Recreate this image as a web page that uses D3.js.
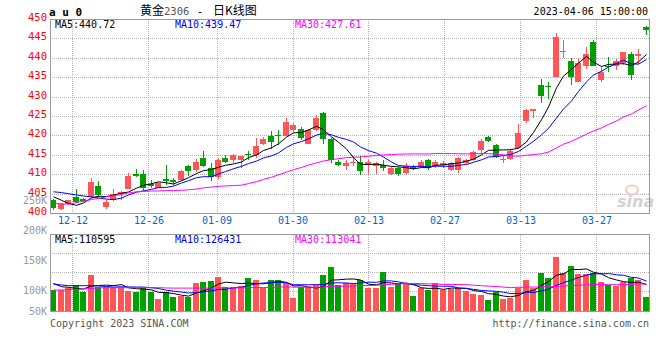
<!DOCTYPE html>
<html><head><meta charset="utf-8">
<script src="https://cdn.jsdelivr.net/npm/d3@7"></script>
<style>body{margin:0;background:#fff;} svg{display:block;}</style>
</head><body>
<svg id="c" width="660" height="360"></svg>
<script>
// ---------------- data ----------------
const dates = ["12-07","12-08","12-09","12-12","12-13","12-14","12-15","12-16","12-19","12-20",
"12-21","12-22","12-23","12-26","12-27","12-28","12-29","12-30","01-03","01-04",
"01-05","01-06","01-09","01-10","01-11","01-12","01-13","01-16","01-17","01-18",
"01-19","01-20","01-30","01-31","02-01","02-02","02-03","02-06","02-07","02-08",
"02-09","02-10","02-13","02-14","02-15","02-16","02-17","02-20","02-21","02-22",
"02-23","02-24","02-27","02-28","03-01","03-02","03-03","03-06","03-07","03-08",
"03-09","03-10","03-13","03-14","03-15","03-16","03-17","03-20","03-21","03-22",
"03-23","03-24","03-27","03-28","03-29","03-30","03-31","04-03","04-04","04-06"];
const open = [403.6,401.2,402.4,404.3,403.75,404.3,407.0,401.7,403.4,405.0,
406.3,410.1,410.3,407.7,406.7,408.8,408.6,408.6,412.3,411.1,
414.4,411.6,409.3,414.4,413.7,413.7,415.4,415.0,418.0,419.9,
420.2,420.1,421.4,421.9,418.0,421.5,425.8,419.3,413.3,412.3,
413.2,413.4,412.4,412.3,412.4,410.3,411.6,410.4,412.0,412.0,
413.7,412.2,412.6,411.3,411.1,412.9,413.9,416.3,419.7,417.6,
413.7,414.1,416.9,423.8,426.4,433.0,432.8,435.1,441.6,439.4,
433.9,437.9,444.1,434.3,438.1,437.9,438.7,441.1,440.6,448.0];
const high = [403.8,402.7,403.6,406.4,404.0,409.25,408.3,403.4,406.2,405.8,
410.4,411.4,411.1,408.6,408.1,412.4,409.2,411.1,412.6,414.0,
416.1,413.0,414.3,415.0,415.4,414.9,416.0,419.5,419.7,421.2,
421.4,424.7,423.3,422.4,421.9,425.4,426.1,419.5,413.7,413.7,
414.7,414.7,413.7,413.4,413.9,412.2,412.0,412.9,412.4,413.7,
414.1,413.7,413.5,413.2,414.5,414.1,416.0,419.3,419.9,417.9,
414.8,416.6,423.1,427.0,426.9,434.7,434.0,446.4,444.6,440.1,
440.1,442.8,444.7,437.7,440.4,439.8,441.6,441.5,442.3,448.4];
const low = [401.0,400.8,402.2,402.6,402.9,404.1,404.3,401.2,403.2,403.4,
406.2,409.4,405.8,406.7,406.5,407.3,407.3,408.4,409.7,410.7,
412.1,408.4,409.0,412.9,412.9,411.6,413.7,414.3,417.6,416.7,
417.6,419.9,421.0,419.0,417.8,421.2,417.8,412.9,412.2,411.1,
412.2,409.8,410.3,410.1,410.9,409.8,409.6,410.3,411.1,411.6,
411.1,411.6,411.8,410.9,410.5,412.7,413.6,415.4,418.3,414.3,
413.0,413.9,416.7,423.2,424.6,428.5,429.5,435.1,440.1,433.2,
433.9,437.3,437.9,433.8,436.4,436.9,438.2,434.4,438.6,446.1];
const close = [401.5,402.4,403.4,403.0,403.2,408.0,404.7,402.9,405.0,405.5,
409.6,409.6,406.7,407.0,407.9,408.4,408.0,410.9,410.9,413.3,
412.2,409.3,413.9,413.4,415.0,414.7,415.1,417.3,419.1,418.4,
419.9,423.7,422.9,419.5,421.6,424.7,419.3,413.7,412.6,412.9,
413.4,410.9,413.3,413.1,411.6,411.8,410.3,412.3,411.5,413.3,
411.6,413.3,413.0,412.9,414.3,413.9,415.8,418.7,418.7,414.6,
414.1,416.1,420.7,426.7,426.9,430.4,432.5,445.4,441.9,435.3,
438.7,441.0,438.1,436.4,437.9,439.2,441.5,435.7,441.1,447.3];
const volume = [100800,100800,103700,109200,98000,125800,105300,106300,105300,106300,
99200,98000,103700,98000,85800,97000,89700,90800,89700,112000,
113700,115800,122500,105300,106300,108000,120300,117500,103700,117500,
117500,112000,87000,106300,106300,109200,125800,138700,109200,112000,
110300,117500,103700,103700,131300,106300,110300,110300,91300,104700,
100800,112000,100800,102000,103700,99200,94200,92500,84200,97000,
85800,88000,103700,117500,103700,128700,121300,156300,128700,140800,
127000,127000,128700,114700,109200,108000,113700,121300,117500,89700];
// moving-average values for the bars before enough history is visible
const ma5Lead = [404.3,403.4,402.6,402.1];
const ma10Lead = [405.6,405.4,405.1,404.8,404.5,404.3,404.0,403.7,403.6];
const ma30Lead = [402.6,402.5,402.4,402.8,403.2,403.6,403.9,404.3,404.6,404.9,
405.3,405.6,405.7,405.8,405.8,405.9,405.9,406.0,406.1,406.3,
406.6,406.8,407.0,407.1,407.2,407.3,407.7,408.2,408.8];
const volMa5Lead = [111700,106300,105300,103300];
const volMa10Lead = [110800,109200,108000,108000,108000,108000,107500,106700,105800];
const volMa30Lead = [100800,100800,101500,102000,102500,103500,104200,104700,104700,104700,
104700,104700,104700,104700,104700,104200,104000,104000,104000,104000,
104000,104000,104200,104200,104300,104500,104700,104800,105000];
const priceTicks = [450,445,440,435,430,425,420,415,410,405,400];
const volTicks = [250000,200000,150000,100000,50000];
const volTickLabels = ["250K","200K","150K","100K","50K"];
const dateTicks = ["12-12","12-26","01-09","01-30","02-13","02-27","03-13","03-27"];
const priceMaLabels = ["MA5:440.72","MA10:439.47","MA30:427.61"];
const volMaLabels = ["MA5:110595","MA10:126431","MA30:113041"];
const maColors = ["#000000","#0000ff","#ff00ff"];

// ---------------- helpers ----------------
function movingAvg(arr, n, lead) {
  return arr.map((v, i) => i < n - 1 ? lead[i] : d3.mean(arr.slice(i - n + 1, i + 1)));
}
const priceMA = [movingAvg(close, 5, ma5Lead), movingAvg(close, 10, ma10Lead), movingAvg(close, 30, ma30Lead)];
const volMA = [movingAvg(volume, 5, volMa5Lead), movingAvg(volume, 10, volMa10Lead), movingAvg(volume, 30, volMa30Lead)];

const RED = "#ff5555", GREEN = "#00a000";
const MONO = "'DejaVu Sans Mono', monospace";
const svg = d3.select("#c");

const P = {l: 50, r: 650, t: 19, b: 213.5};
const V = {t: 234.5, b: 311};
const xBand = d3.scaleLinear().domain([0, dates.length]).range([P.l, P.r]);
const left = i => Math.round(xBand(i));
const cx = i => left(i) + 3.5;
const xGrid = d3.scaleLinear().domain([0, dates.length - 1]).range([P.l, P.r]);
const yP = d3.scaleLinear().domain([400, 450]).range([213.5, 19.5]);
const yV = d3.scaleLinear().domain([50000, 250000]).range([320.5, 200.5]);

const crisp = v => Math.floor(v) + 0.5;
const gridStyle = s => s.attr("stroke", "#b4b4b4").attr("stroke-dasharray", "1,1").attr("shape-rendering", "crispEdges");

// ---------------- grids ----------------
const gP = svg.append("g");
gP.selectAll("line.hg").data(priceTicks.slice(1, -1)).join("line")
  .attr("x1", P.l).attr("x2", P.r).attr("y1", d => crisp(yP(d))).attr("y2", d => crisp(yP(d)))
  .call(gridStyle);
const tickIdx = dateTicks.map(t => dates.indexOf(t));
gP.selectAll("line.vg").data(tickIdx).join("line")
  .attr("x1", d => crisp(xGrid(d))).attr("x2", d => crisp(xGrid(d)))
  .attr("y1", P.t).attr("y2", P.b).call(gridStyle);
svg.append("g").selectAll("line").data(tickIdx).join("line")
  .attr("x1", d => crisp(xGrid(d))).attr("x2", d => crisp(xGrid(d)))
  .attr("y1", V.t).attr("y2", V.b).call(gridStyle);
const volGridY = [1, 2, 3].map(k => V.t + (V.b - V.t) * k / 4);
svg.append("g").selectAll("line").data(volGridY).join("line")
  .attr("x1", P.l).attr("x2", P.r).attr("y1", d => crisp(d)).attr("y2", d => crisp(d)).call(gridStyle);

// sina watermark
svg.append("ellipse").attr("cx", 632).attr("cy", 190).attr("rx", 6).attr("ry", 4.5)
  .attr("fill", "none").attr("stroke", "#f0c8c8").attr("stroke-width", 2);
svg.append("text").attr("x", 617).attr("y", 207).attr("font-family", "'DejaVu Sans', sans-serif")
  .attr("font-size", 16).attr("font-weight", "bold").attr("font-style", "italic")
  .attr("fill", "#d2d2d2").text("sina");

// ---------------- candles ----------------
const idx = d3.range(dates.length);
const isUp = i => close[i] >= open[i];
const gC = svg.append("g").attr("shape-rendering", "crispEdges");
gC.selectAll("rect.wick").data(idx).join("rect")
  .attr("x", i => left(i) + 3).attr("width", 1)
  .attr("y", i => Math.round(yP(high[i])))
  .attr("height", i => Math.max(1, Math.round(yP(low[i])) - Math.round(yP(high[i]))))
  .attr("fill", i => isUp(i) ? RED : GREEN);
gC.selectAll("rect.body").data(idx).join("rect")
  .attr("x", i => left(i)).attr("width", 6)
  .attr("y", i => Math.round(yP(Math.max(open[i], close[i]))))
  .attr("height", i => Math.max(1, Math.round(yP(Math.min(open[i], close[i]))) - Math.round(yP(Math.max(open[i], close[i])))))
  .attr("fill", i => isUp(i) ? RED : GREEN);

svg.append("clipPath").attr("id", "cp").append("rect").attr("x", P.l).attr("y", P.t).attr("width", P.r - P.l).attr("height", P.b - P.t);
const lineP = d3.line().x((d, i) => cx(i)).y(d => yP(d));
svg.append("g").attr("clip-path", "url(#cp)").selectAll("path").data(priceMA).join("path")
  .attr("d", lineP).attr("fill", "none").attr("stroke", (d, k) => maColors[k]).attr("stroke-width", 1);

svg.append("rect").attr("x", P.l + 0.5).attr("y", P.t + 0.5).attr("width", P.r - P.l - 1).attr("height", P.b - P.t - 0.5)
  .attr("fill", "none").attr("stroke", "#999").attr("shape-rendering", "crispEdges");

// ---------------- volume panel ----------------
const gV = svg.append("g").attr("shape-rendering", "crispEdges");
gV.selectAll("rect").data(idx).join("rect")
  .attr("x", i => left(i)).attr("width", 6)
  .attr("y", i => Math.round(yV(volume[i])))
  .attr("height", i => V.b - Math.round(yV(volume[i])))
  .attr("fill", i => isUp(i) ? RED : GREEN);
svg.append("clipPath").attr("id", "cv").append("rect").attr("x", P.l).attr("y", V.t).attr("width", P.r - P.l).attr("height", V.b - V.t);
const lineV = d3.line().x((d, i) => cx(i)).y(d => yV(d));
svg.append("g").attr("clip-path", "url(#cv)").selectAll("path").data(volMA).join("path")
  .attr("d", lineV).attr("fill", "none").attr("stroke", (d, k) => maColors[k]).attr("stroke-width", 1);
svg.append("rect").attr("x", P.l + 0.5).attr("y", V.t).attr("width", P.r - P.l - 1).attr("height", V.b - V.t + 0.5)
  .attr("fill", "none").attr("stroke", "#999").attr("shape-rendering", "crispEdges");

// ---------------- texts ----------------
const txt = (x, y, s, opts = {}) => svg.append("text").attr("x", x).attr("y", y)
  .attr("font-family", opts.font || MONO).attr("font-size", opts.size || 10)
  .attr("fill", opts.fill || "#000").attr("text-anchor", opts.anchor || "start")
  .attr("font-weight", opts.weight || "normal").text(s);

svg.selectAll("text.pt").data(priceTicks).join("text")
  .attr("x", 47).attr("y", d => yP(d) + 1.5).attr("text-anchor", "end")
  .attr("font-family", MONO).attr("font-size", 10.5).attr("fill", "#ff0000").text(d => d);
svg.selectAll("text.vt").data(volTicks).join("text")
  .attr("x", 47).attr("y", d => Math.min(yV(d), V.b) + 3.5).attr("text-anchor", "end")
  .attr("font-family", MONO).attr("font-size", 10).attr("fill", "#999").text((d, k) => volTickLabels[k]);
svg.selectAll("text.dt").data(tickIdx).join("text")
  .attr("x", d => Math.round(xGrid(d))).attr("y", 224).attr("text-anchor", "middle")
  .attr("font-family", MONO).attr("font-size", 10).attr("fill", "#0066cc").text((d, k) => dateTicks[k]);

const legX = [55, 175, 295];
priceMaLabels.forEach((s, k) => txt(legX[k], 27.5, s, {fill: maColors[k]}));
volMaLabels.forEach((s, k) => txt(legX[k], 242.5, s, {fill: maColors[k]}));

txt(49, 16, "a u 0", {size: 11, weight: "bold"});
txt(140, 14.5, "黄金", {font: "'Noto Sans CJK SC', sans-serif", size: 12});
txt(164, 14.5, "2306", {size: 10.5, fill: "#555"});
txt(200, 14.5, "-", {size: 11, anchor: "middle"});
txt(213, 14.5, "日K线图", {font: "'Noto Sans CJK SC', sans-serif", size: 12});
txt(648, 15, "2023-04-06 15:00:00", {size: 10, anchor: "end"});

txt(50, 327, "Copyright 2023 SINA.COM", {fill: "#555"});
txt(649, 327, "http://finance.sina.com.cn", {fill: "#555", anchor: "end"});
</script>
</body></html>
